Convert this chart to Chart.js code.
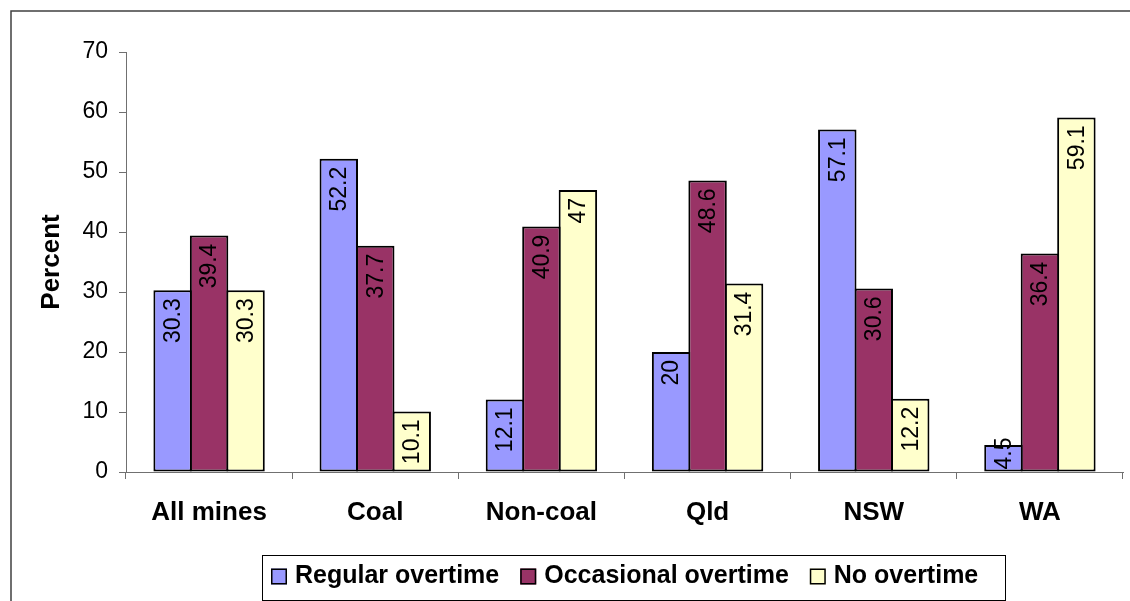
<!DOCTYPE html>
<html>
<head>
<meta charset="utf-8">
<script src="https://cdn.jsdelivr.net/npm/chart.js@4.4.1/dist/chart.umd.min.js"></script>
<style>
  html, body { margin: 0; padding: 0; background: #fff; overflow: hidden; }
  canvas { display: block; }
</style>
</head>
<body>
<canvas id="c" width="1130" height="601"></canvas>
<script>
// Overtime worked, by mine group (percent of respondents)
const categories = ['All mines', 'Coal', 'Non-coal', 'Qld', 'NSW', 'WA'];
const seriesNames = ['Regular overtime', 'Occasional overtime', 'No overtime'];
const regularOvertime    = [30.3, 52.2, 12.1, 20, 57.1, 4.5];
const occasionalOvertime = [39.4, 37.7, 40.9, 48.6, 30.6, 36.4];
const noOvertime         = [30.3, 10.1, 47, 31.4, 12.2, 59.1];
const yTicks = [0, 10, 20, 30, 40, 50, 60, 70];

const FONT = '"Liberation Sans", Arial, Helvetica, sans-serif';

// Thin frame around the chart (left and top edges)
const framePlugin = {
  id: 'frame',
  beforeDraw(chart) {
    const ctx = chart.ctx;
    ctx.save();
    ctx.strokeStyle = '#404040';
    ctx.lineWidth = 1.5;
    ctx.beginPath();
    ctx.moveTo(11, 601);
    ctx.lineTo(11, 11);
    ctx.lineTo(1130, 11);
    ctx.stroke();
    ctx.restore();
  }
};

// Values written vertically inside the top of each bar
const barValueLabels = {
  id: 'barValueLabels',
  afterDatasetsDraw(chart) {
    const ctx = chart.ctx;
    ctx.save();
    ctx.font = '23px ' + FONT;
    ctx.fillStyle = '#000';
    ctx.textAlign = 'left';
    ctx.textBaseline = 'middle';
    chart.data.datasets.forEach((ds, i) => {
      const meta = chart.getDatasetMeta(i);
      meta.data.forEach((bar, j) => {
        const text = String(ds.data[j]);
        const w = ctx.measureText(text).width;
        let start = bar.y + 8 + w;
        if (start > bar.base - 2) start = bar.base - 2;
        ctx.save();
        ctx.translate(bar.x + 1, start);
        ctx.rotate(-Math.PI / 2);
        ctx.fillText(text, 0, 0);
        ctx.restore();
      });
    });
    ctx.restore();
  }
};

// Boxed legend below the axis
const boxLegend = {
  id: 'boxLegend',
  afterDraw(chart) {
    const ctx = chart.ctx;
    const L = 262, T = 555, R = 1005, B = 600;
    ctx.save();
    ctx.strokeStyle = '#000';
    ctx.lineWidth = 1;
    ctx.strokeRect(L + 0.5, T + 0.5, R - L, B - T);
    ctx.font = 'bold 25px ' + FONT;
    ctx.textAlign = 'left';
    ctx.textBaseline = 'middle';
    const cy = 576.5;
    let x = L + 9;
    chart.data.datasets.forEach(ds => {
      ctx.fillStyle = ds.backgroundColor;
      ctx.fillRect(x, cy - 8, 16, 16);
      ctx.strokeStyle = '#000';
      ctx.lineWidth = 1.5;
      ctx.strokeRect(x + 0.75, cy - 8 + 0.75, 14.5, 14.5);
      ctx.fillStyle = '#000';
      ctx.fillText(ds.label, x + 24, cy);
      x += 24 + ctx.measureText(ds.label).width + 21;
    });
    ctx.restore();
  }
};

new Chart(document.getElementById('c'), {
  type: 'bar',
  data: {
    labels: categories,
    datasets: [
      { label: seriesNames[0], data: regularOvertime, backgroundColor: '#9999FF' },
      { label: seriesNames[1], data: occasionalOvertime, backgroundColor: '#993366' },
      { label: seriesNames[2], data: noOvertime, backgroundColor: '#FFFFCC' }
    ]
  },
  options: {
    responsive: false,
    animation: false,
    devicePixelRatio: 1,
    layout: { padding: { top: 52, right: 7, bottom: 0, left: 0 } },
    datasets: {
      bar: {
        borderColor: '#000',
        borderWidth: 2,
        borderSkipped: false,
        categoryPercentage: 0.6584,
        barPercentage: 1.0545
      }
    },
    plugins: {
      legend: { display: false },
      tooltip: { enabled: false }
    },
    scales: {
      x: {
        grid: { drawOnChartArea: false, drawTicks: true, tickLength: 7, color: '#707070', offset: true },
        border: { color: '#707070', width: 1 },
        ticks: {
          color: '#000',
          font: { family: FONT, size: 26, weight: 'bold' },
          padding: 18,
          maxRotation: 0,
          autoSkip: false
        },
        afterFit(scale) { scale.height = 129; }
      },
      y: {
        min: 0,
        max: 70,
        afterBuildTicks(scale) { scale.ticks = yTicks.map(v => ({ value: v })); },
        grid: { drawOnChartArea: false, drawTicks: true, tickLength: 7, color: '#707070' },
        border: { color: '#707070', width: 1 },
        ticks: {
          color: '#000',
          font: { family: FONT, size: 23 },
          padding: 11
        },
        title: {
          display: true,
          text: 'Percent',
          color: '#000',
          font: { family: FONT, size: 26, weight: 'bold' },
          padding: { top: 36 }
        },
        afterFit(scale) { scale.width = 126; }
      }
    }
  },
  plugins: [framePlugin, barValueLabels, boxLegend]
});
</script>
</body>
</html>
